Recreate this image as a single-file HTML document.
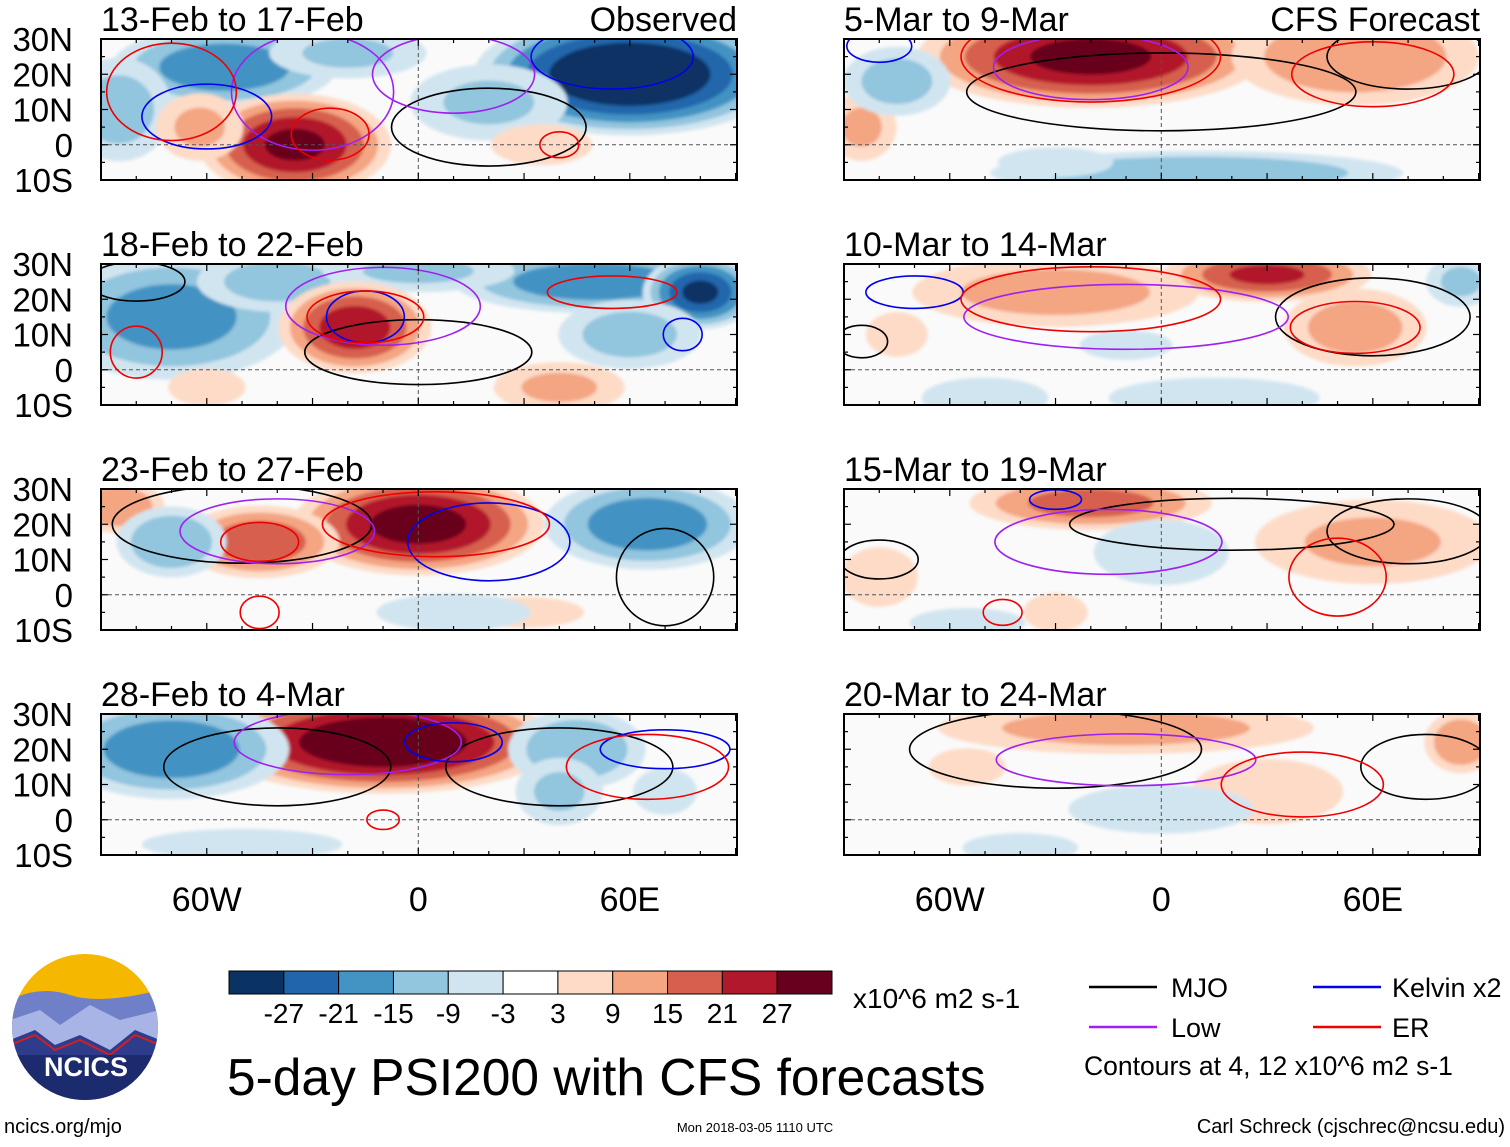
<!DOCTYPE html>
<html><head><meta charset="utf-8"><style>
body{margin:0;background:#fff;}
svg text{font-family:"Liberation Sans",sans-serif;fill:#000;}
</style></head><body>
<svg id="fig" width="1510" height="1142" viewBox="0 0 1510 1142" xmlns="http://www.w3.org/2000/svg">
<defs id="defs"><filter id="soft"><feGaussianBlur stdDeviation="1.5"/></filter></defs>
<g id="panels"></g>
<g id="colorbar"></g>
<g>
  <clipPath id="logoClip"><circle cx="85" cy="1027" r="73"/></clipPath>
  <g clip-path="url(#logoClip)">
    <rect x="10" y="952" width="150" height="150" fill="#f6b700"/>
    <path d="M10 1000 Q40 985 70 995 T160 990 L160 1102 L10 1102Z" fill="#6f7fc8"/>
    <path d="M10 1020 L40 1010 L60 1025 L90 1005 L120 1020 L160 1010 L160 1102 L10 1102Z" fill="#a8b4e6"/>
    <path d="M10 1040 L35 1030 L55 1045 L80 1035 L110 1050 L135 1030 L160 1040 L160 1102 L10 1102Z" fill="#2f3c8c"/>
    <path d="M10 1045 L35 1035 L55 1050 L80 1040 L110 1055 L135 1035 L160 1045" fill="none" stroke="#d02020" stroke-width="2"/>
    <rect x="10" y="1055" width="150" height="50" fill="#1c2a6e"/>
  </g>
  <text x="86" y="1076" text-anchor="middle" font-size="27" font-weight="bold" style="fill:#fff">NCICS</text>
</g>
<text x="853" y="1008" font-size="28">x10^6 m2 s-1</text>
<g>
  <line x1="1089" y1="987" x2="1157" y2="987" stroke="#000" stroke-width="2.5"/>
  <text x="1171" y="997" font-size="27">MJO</text>
  <line x1="1313" y1="987" x2="1381" y2="987" stroke="#0000ee" stroke-width="2.5"/>
  <text x="1392" y="997" font-size="27">Kelvin x2</text>
  <line x1="1089" y1="1027" x2="1157" y2="1027" stroke="#a020f0" stroke-width="2.5"/>
  <text x="1171" y="1037" font-size="27">Low</text>
  <line x1="1313" y1="1027" x2="1381" y2="1027" stroke="#ee0000" stroke-width="2.5"/>
  <text x="1392" y="1037" font-size="27">ER</text>
  <text x="1084" y="1075" font-size="26.5">Contours at 4, 12 x10^6 m2 s-1</text>
</g>
<text x="227" y="1095" font-size="51.5">5-day PSI200 with CFS forecasts</text>
<text x="4" y="1133" font-size="20">ncics.org/mjo</text>
<text x="755" y="1132" font-size="13" text-anchor="middle">Mon 2018-03-05 1110 UTC</text>
<text x="1505" y="1133" font-size="20" text-anchor="end">Carl Schreck (cjschrec@ncsu.edu)</text>
</svg>
<script>
// ---- data ----
const panelTitles = ["13-Feb to 17-Feb","18-Feb to 22-Feb","23-Feb to 27-Feb","28-Feb to 4-Mar","5-Mar to 9-Mar","10-Mar to 14-Mar","15-Mar to 19-Mar","20-Mar to 24-Mar"];
const panelTags = ["Observed","","","","CFS Forecast","","",""];
const latTicks = ["30N","20N","10N","0","10S"];
const latValues = [30,20,10,0,-10];
const lonTickLabels = ["60W","0","60E"];
const lonTickValues = [-60,0,60];
const cbLevels = [-27,-21,-15,-9,-3,3,9,15,21,27];
const cbColors = ["#0a3263","#2166ac","#4393c3","#92c5de","#d1e5f0","#ffffff","#fddbc7","#f4a582","#d6604d","#b2182b","#67001f"];
// anomaly blobs per panel: [lon, lat, rxDeg, ryDeg, value]
const blobs1 = [[60,20,32,13,-36],[-55,22,24,9,-20],[-85,10,12,12,-12],[20,12,18,9,-10],[-20,26,18,6,-10],[-35,0,20,11,28],[-62,5,10,8,10],[35,0,12,5,8]];
const blobs2 = [[-70,15,27,14,-18],[-40,25,18,7,-12],[50,25,30,7,-20],[80,22,12,8,-28],[0,28,22,5,-10],[60,10,16,8,-12],[-18,12,16,10,25],[40,-5,15,6,10],[-60,-5,10,5,5]];
const blobs3 = [[0,20,26,11,30],[-45,15,17,8,20],[-85,25,10,6,15],[30,-5,15,4,6],[65,20,22,10,-20],[-70,15,12,8,-15],[10,-5,20,5,-5]];
const blobs4 = [[-10,22,36,11,34],[-70,20,25,11,-20],[45,20,15,9,-15],[40,8,10,8,-10],[-50,-7,25,4,-6],[70,8,8,6,-6]];
const blobs5 = [[-20,25,36,11,29],[55,25,27,11,15],[-85,5,8,8,10],[-75,18,12,8,-12],[10,-8,45,5,-15],[-30,-5,15,4,-5]];
const blobs6 = [[-30,22,32,8,12],[30,27,22,6,22],[55,12,16,9,12],[-75,10,8,6,5],[15,-8,25,5,-8],[-50,-8,15,5,-8],[85,25,8,6,-10],[-10,7,12,4,-5]];
const blobs7 = [[-20,26,26,6,18],[60,15,27,10,10],[-80,5,10,8,5],[-30,-5,8,5,6],[0,12,16,8,-8],[-55,-8,15,4,-5]];
const blobs8 = [[-10,26,42,6,12],[85,22,8,7,15],[30,8,18,8,8],[-55,15,10,5,5],[0,3,22,6,-8],[-40,-8,15,4,-5]];
const blobSets = [blobs1,blobs2,blobs3,blobs4,blobs5,blobs6,blobs7,blobs8];
// contours per panel: [type, lon, lat, rx, ry]  m=MJO l=Low k=Kelvin e=ER
const cont1 = [["m",20,5,30,12],["l",-30,15,25,18],["l",10,20,25,12],["k",-60,8,20,10],["k",55,25,25,10],["e",-70,15,20,15],["e",-25,3,12,8],["e",40,0,6,4]];
const cont2 = [["m",-80,25,15,6],["m",0,5,35,10],["l",-10,18,30,12],["k",-15,15,12,8],["k",75,10,6,5],["e",-15,15,18,8],["e",55,22,20,5],["e",-80,5,8,8]];
const cont3 = [["m",-50,20,40,12],["m",70,5,15,15],["l",-40,18,30,10],["k",20,15,25,12],["e",5,20,35,10],["e",-45,-5,6,5],["e",-45,15,12,6]];
const cont4 = [["m",-40,15,35,12],["m",40,15,35,12],["l",-20,22,35,10],["k",10,22,15,6],["k",70,20,20,6],["e",65,15,25,10],["e",-10,0,5,3]];
const cont5 = [["m",70,25,25,10],["m",0,15,60,12],["l",-20,22,30,10],["k",-80,28,10,5],["e",-20,25,40,14],["e",60,20,25,10]];
const cont6 = [["m",60,15,30,12],["m",-85,8,8,5],["l",-10,15,50,10],["k",-70,22,15,5],["e",-20,20,40,10],["e",55,12,20,8]];
const cont7 = [["m",70,18,25,10],["m",-80,10,12,6],["m",20,20,50,8],["l",-15,15,35,10],["k",-30,27,8,3],["e",50,5,15,12],["e",-45,-5,6,4]];
const cont8 = [["m",-30,20,45,12],["m",75,15,20,10],["l",-10,17,40,8],["e",40,10,25,10]];
const contSets = [cont1,cont2,cont3,cont4,cont5,cont6,cont7,cont8];
const contColors = {m:"#000000",l:"#a020f0",k:"#0000ee",e:"#ee0000"};

// ---- layout ----
const NS="http://www.w3.org/2000/svg";
const colX=[101,844], rowY=[39,264,489,714], PW=636, PH=141;
const LON0=-90, LON1=90.4, LAT0=30, LAT1=-10;
function mk(tag,attrs,parent){const e=document.createElementNS(NS,tag);for(const k in attrs)e.setAttribute(k,attrs[k]);parent.appendChild(e);return e;}
function colorFor(v){let i=0;while(i<cbLevels.length&&v>=cbLevels[i])i++;return cbColors[i];}
const panelsG=document.getElementById('panels');
const defs=document.getElementById('defs');
for(let p=0;p<8;p++){
  const x0=colX[p<4?0:1], y0=rowY[p%4];
  const sx=lon=>x0+(lon-LON0)/(LON1-LON0)*PW;
  const sy=lat=>y0+(LAT0-lat)/(LAT0-LAT1)*PH;
  const kx=PW/(LON1-LON0), ky=PH/(LAT0-LAT1);
  const g=mk('g',{},panelsG);
  
  
  const cp=mk('clipPath',{id:'cp'+p},defs);
  mk('rect',{x:x0,y:y0,width:PW,height:PH},cp);
  const inner=mk('g',{'clip-path':'url(#cp'+p+')'},g);
  mk('rect',{x:x0,y:y0,width:PW,height:PH,fill:'#fafafa'},inner);
  const fills=mk('g',{filter:'url(#soft)'},inner);
  // filled anomaly blobs
  blobSets[p].forEach(b=>{
    const [lon,lat,rx,ry,v]=b, a=Math.abs(v), s=Math.sign(v);
    const th=[3,9,15,21,27].filter(t=>t<a);
    th.forEach(t=>{
      const f=Math.pow(1-t/(a+3),0.6);
      const e=mk('ellipse',{cx:sx(lon),cy:sy(lat),rx:rx*kx*f*1.45,ry:ry*ky*f*1.4,fill:colorFor(s*(t+0.5))},fills);
      
      
    });
  });
  // reference lines
  mk('line',{x1:x0,x2:x0+PW,y1:sy(0),y2:sy(0),stroke:'#555','stroke-dasharray':'4 3','stroke-width':1},inner);
  mk('line',{x1:sx(0),x2:sx(0),y1:y0,y2:y0+PH,stroke:'#555','stroke-dasharray':'4 3','stroke-width':1},inner);
  // contours
  contSets[p].forEach(c=>{
    const e=mk('ellipse',{cx:sx(c[1]),cy:sy(c[2]),rx:c[3]*kx*0.92,ry:c[4]*ky*0.92,fill:'none',stroke:contColors[c[0]],'stroke-width':1.6},inner);
    
    
  });
  // frame
  mk('rect',{x:x0,y:y0,width:PW,height:PH,fill:'none',stroke:'#000','stroke-width':2},g);
  // ticks
  for(let lon=-90;lon<=90;lon+=10){
    const L=(lon%30===0)?7:4;
    mk('line',{x1:sx(lon),x2:sx(lon),y1:y0,y2:y0+L,stroke:'#000','stroke-width':1.2},g);
    mk('line',{x1:sx(lon),x2:sx(lon),y1:y0+PH,y2:y0+PH-L,stroke:'#000','stroke-width':1.2},g);
  }
  for(let lat=-10;lat<=30;lat+=5){
    const L=(lat%10===0)?7:4;
    mk('line',{x1:x0,x2:x0+L,y1:sy(lat),y2:sy(lat),stroke:'#000','stroke-width':1.2},g);
    mk('line',{x1:x0+PW,x2:x0+PW-L,y1:sy(lat),y2:sy(lat),stroke:'#000','stroke-width':1.2},g);
  }
  // titles
  const t=mk('text',{x:x0,y:y0-8,'font-size':34},g);
  t.textContent=panelTitles[p];
  
  
  if(panelTags[p]){
    const t2=mk('text',{x:x0+PW,y:y0-8,'font-size':34,'text-anchor':'end'},g);
    t2.textContent=panelTags[p];
    
    
  }
  if(p<4){
    latValues.forEach((lat,i)=>{
      const tl=mk('text',{x:73,y:sy(lat)+12,'font-size':33,'text-anchor':'end'},g);
      tl.textContent=latTicks[i];
      
      
    });
  }
  if(p%4===3){
    lonTickValues.forEach((lon,i)=>{
      const tl=mk('text',{x:sx(lon),y:911,'font-size':34,'text-anchor':'middle'},g);
      tl.textContent=lonTickLabels[i];
      
      
    });
  }
}
// colorbar
const cb=document.getElementById('colorbar');
const cbX=229,cbW=603,cbY=971,cbH=23,cw=cbW/cbColors.length;
cbColors.forEach((c,i)=>{
  const r=mk('rect',{x:cbX+i*cw,y:cbY,width:cw,height:cbH,fill:c,stroke:'#000','stroke-width':1},cb);
  
  
});
cbLevels.forEach((v,i)=>{
  const t=mk('text',{x:cbX+(i+1)*cw,y:1023,'font-size':28,'text-anchor':'middle'},cb);
  t.textContent=v;
  
  
});
</script>
</body></html>
